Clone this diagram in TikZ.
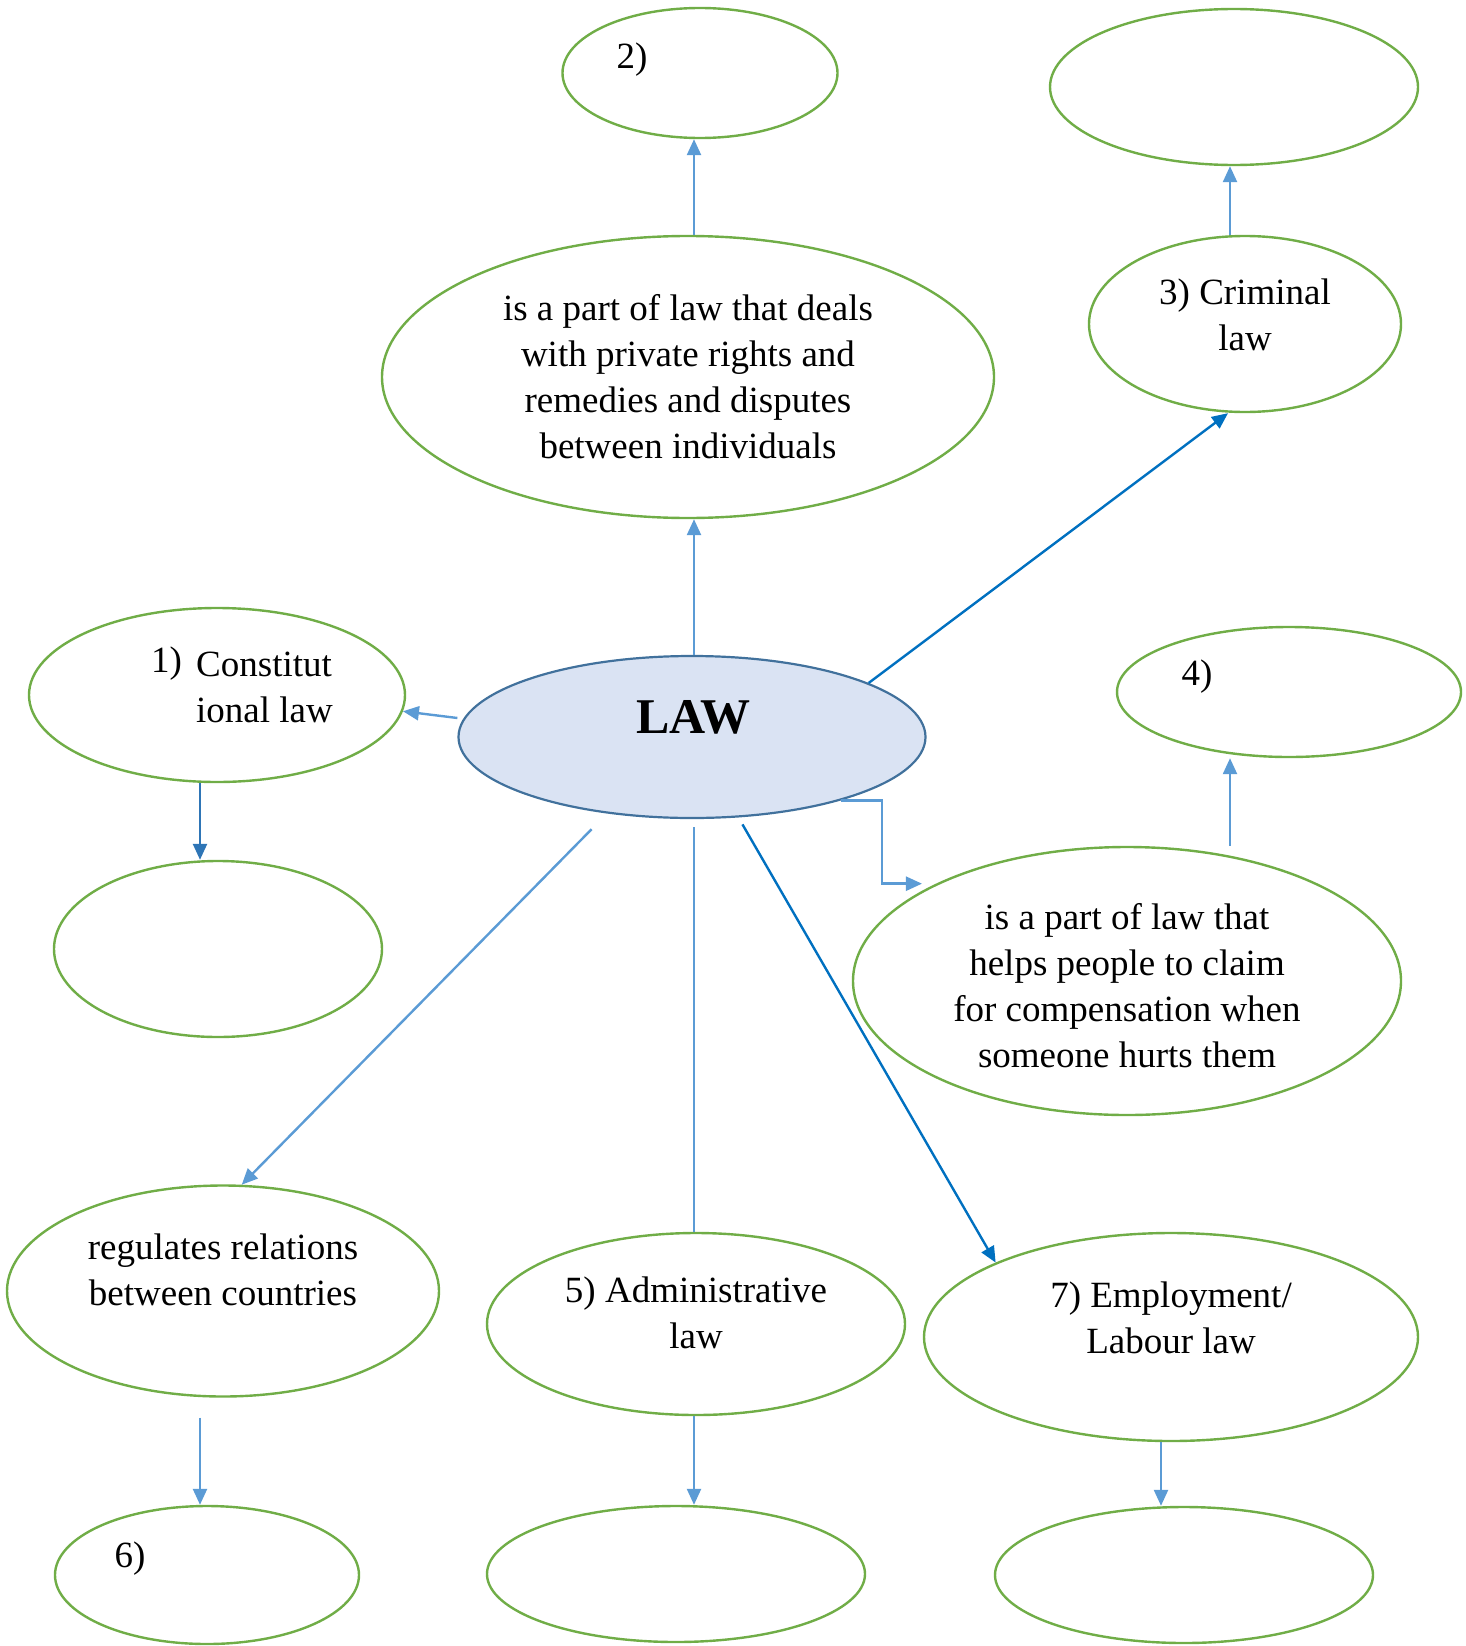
\documentclass[tikz,border=0pt]{standalone}
\usepackage{fontspec}
\setmainfont{Liberation Serif}
\usetikzlibrary{shapes.geometric,arrows.meta}
\definecolor{ovalgreen}{HTML}{70AD47}
\definecolor{arrblue}{HTML}{5B9BD5}
\definecolor{darkarr}{HTML}{0070C0}
\definecolor{midarr}{HTML}{2E75B6}
\definecolor{lawfill}{HTML}{DAE3F3}
\definecolor{lawedge}{HTML}{41719C}
\tikzset{
  oval/.style={ellipse, draw=ovalgreen, line width=2.4pt, inner sep=0pt},
  txt/.style={font=\fontsize{37}{46}\selectfont, align=center, inner sep=0pt},
  arr/.style={draw=arrblue, line width=2.4pt, -{Triangle[length=16pt,width=14pt]}},
}
\begin{document}
\begin{tikzpicture}[x=1pt,y=-1pt]
\useasboundingbox (0,0) rectangle (1465,1646);
\node[oval, minimum width=275pt, minimum height=130pt] (two) at (700,73) {};
\node[oval, minimum width=612pt, minimum height=282pt] (civil) at (688,377) {};
\node[oval, minimum width=368pt, minimum height=156pt] (topr) at (1234,87) {};
\node[oval, minimum width=312pt, minimum height=176pt] (crim) at (1245,324) {};
\node[oval, minimum width=376pt, minimum height=174pt] (const) at (217,695) {};
\node[ellipse, draw=lawedge, fill=lawfill, line width=2.2pt, inner sep=0pt,
  minimum width=467pt, minimum height=162pt] (law) at (692,737) {};
\node[oval, minimum width=344pt, minimum height=130pt] (four) at (1289,692) {};
\node[oval, minimum width=328pt, minimum height=176pt] (below) at (218,949) {};
\node[oval, minimum width=548pt, minimum height=268pt] (tort) at (1127,981) {};
\node[oval, minimum width=432pt, minimum height=211pt] (intl) at (223,1291) {};
\node[oval, minimum width=418pt, minimum height=182pt] (admin) at (696,1324) {};
\node[oval, minimum width=494pt, minimum height=208pt] (emp) at (1171,1337) {};
\node[oval, minimum width=304pt, minimum height=138pt] (six) at (207,1575) {};
\node[oval, minimum width=378pt, minimum height=136pt] (botm) at (676,1574) {};
\node[oval, minimum width=378pt, minimum height=136pt] (botr) at (1184,1575) {};

\node[txt] (twotxt) at (632,60) {2)};
\node[txt] (civiltxt) at (688,377) {is a part of law that deals\\with private rights and\\remedies and disputes\\between individuals};
\node[txt] (crimtxt) at (1245,315) {3) Criminal\\law};
\node[txt, anchor=west] (onetxt) at (151,664) {1)};
\node[txt, anchor=west, align=left] (consttxt) at (196,687) {Constitut\\ional law};
\node[txt, font=\fontsize{50}{50}\selectfont\bfseries] (lawtxt) at (693,717) {LAW};
\node[txt] (fourtxt) at (1197,677) {4)};
\node[txt] (torttxt) at (1127,986) {is a part of law that\\helps people to claim\\for compensation when\\someone hurts them};
\node[txt] (intltxt) at (223,1270) {regulates relations\\between countries};
\node[txt] (admintxt) at (696,1313) {5) Administrative\\law};
\node[txt] (emptxt) at (1171,1318) {7) Employment/\\Labour law};
\node[txt] (sixtxt) at (130,1559) {6)};

\draw[arr] ([xshift=2pt]law.north) -- ([xshift=2pt]law.north |- civil.south);
\draw[arr] ([xshift=6pt]civil.north) -- ([xshift=6pt]civil.north |- two.south);
\draw[arr, draw=darkarr] (law.17) -- ([xshift=-17pt]crim.south);
\draw[arr] ([xshift=-15pt]crim.north) -- ([xshift=-15pt]crim.north |- topr.south);
\draw[arr] ([yshift=19pt]law.west) -- (const.-5);
\draw[arr, draw=midarr] ([xshift=-17pt]const.south) -- ([xshift=-17pt]const.south |- below.north);
\draw[arr, shorten >=14pt] (law.-23) -- ++(41,0) |- (tort.153);
\draw[arr] ([xshift=103pt]tort.north) -- ([xshift=103pt]tort.north |- four.south);
\draw[arr, shorten <=22pt] (law.222) -- (intl.80);
\draw[draw=arrblue, line width=1.2pt, shorten <=8pt] ([xshift=2pt]law.south) -- ([xshift=2pt]law.south |- admin.north);
\draw[arr, draw=darkarr, shorten <=8pt] (law.-60) -- (emp.157);
\draw[arr, shorten <=20pt] ([xshift=-23pt]intl.south) -- ([xshift=-23pt]intl.south |- six.north);
\draw[arr] ([xshift=-2pt]admin.south) -- ([xshift=-2pt]admin.south |- botm.north);
\draw[arr] ([xshift=-10pt]emp.south) -- ([xshift=-10pt]emp.south |- botr.north);
\end{tikzpicture}
\end{document}
